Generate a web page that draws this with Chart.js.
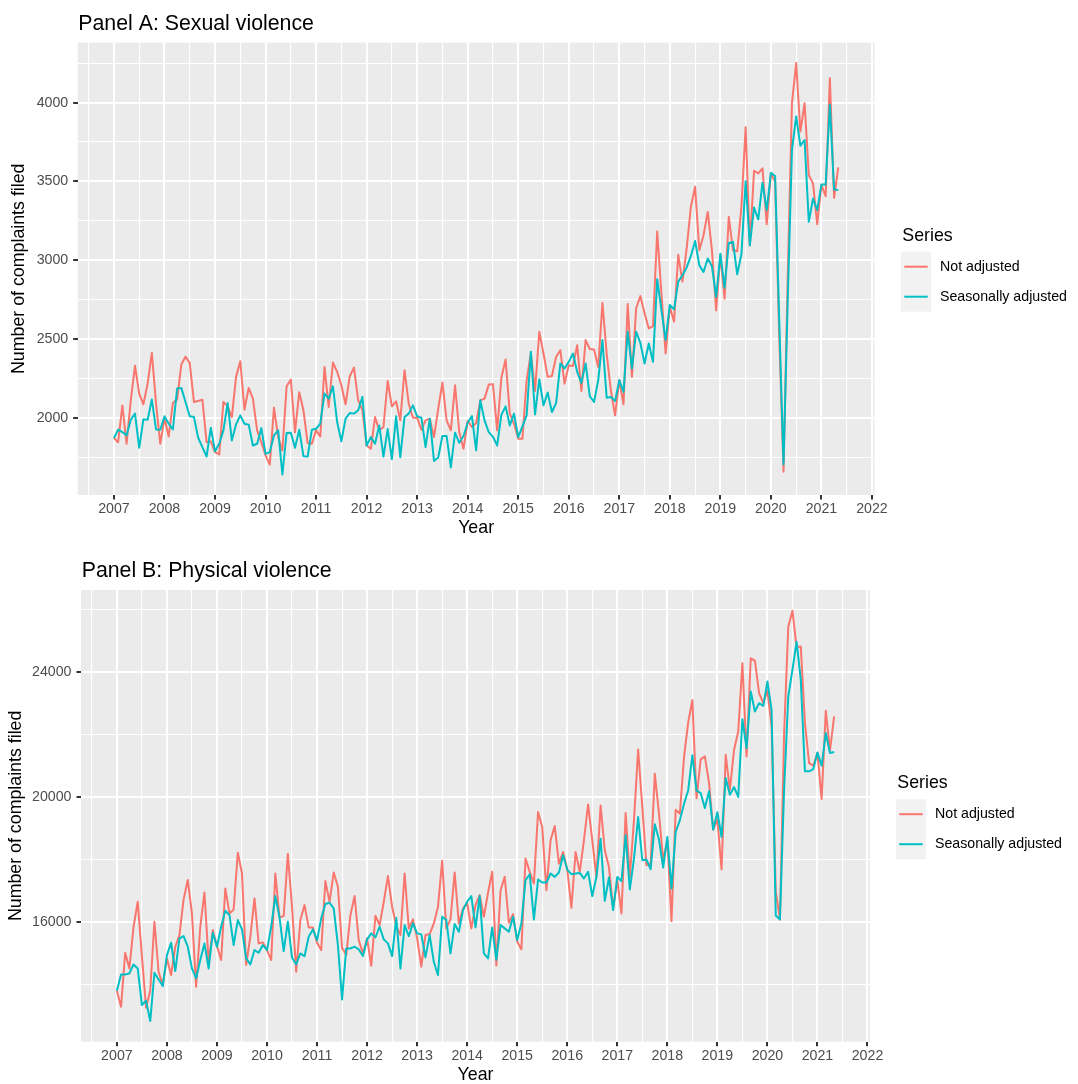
<!DOCTYPE html>
<html>
<head>
<meta charset="utf-8">
<script src="https://cdn.jsdelivr.net/npm/chart.js@4/dist/chart.umd.min.js"></script>
<style>
  html, body { margin: 0; padding: 0; background: #ffffff; overflow: hidden; }
  .panel { position: absolute; left: 0; width: 1078px; }
  #wrapA { top: 0; height: 542px; }
  #wrapB { top: 542px; height: 545px; }
</style>
</head>
<body>
<div id="wrapA" class="panel"><canvas id="chartA" width="1078" height="542"></canvas></div>
<div id="wrapB" class="panel"><canvas id="chartB" width="1078" height="545"></canvas></div>
<script>
// Monthly complaints, January 2007 to May 2021
const startYear = 2007;
const seriesNames = ['Not adjusted', 'Seasonally adjusted'];
const legendTitle = 'Series';
const yearTicks = [2007, 2008, 2009, 2010, 2011, 2012, 2013, 2014, 2015, 2016, 2017, 2018, 2019, 2020, 2021, 2022];
const sexualTicks = [2000, 2500, 3000, 3500, 4000];
const physicalTicks = [16000, 20000, 24000];

const sexualNotAdjusted = [
  1873, 1847, 2080, 1837, 2112, 2331, 2155, 2087, 2218, 2413, 2091, 1837,
  1998, 1883, 2095, 2117, 2339, 2388, 2350, 2102, 2108, 2117, 1847, 1852,
  1784, 1769, 2102, 2074, 2006, 2261, 2360, 2053, 2191, 2123, 1922, 1847,
  1763, 1705, 2066, 1879, 1794, 2201, 2244, 1910, 2163, 2049, 1841, 1837,
  1922, 1883, 2324, 2070, 2352, 2293, 2208, 2087, 2265, 2320, 2112, 2050,
  1826, 1805, 2006, 1922, 1943, 2235, 2074, 2106, 1985, 2303, 2091, 2002,
  2002, 1926, 1985, 1996, 1879, 2059, 2225, 1985, 1922, 2208, 1911, 1805,
  1981, 1943, 1968, 2112, 2123, 2212, 2215, 1922, 2255, 2371, 2028, 1964,
  1869, 1869, 2240, 2409, 2172, 2547, 2409, 2261, 2267, 2388, 2430, 2218,
  2335, 2329, 2462, 2172, 2494, 2437, 2435, 2324, 2731, 2409, 2176, 2017,
  2240, 2087, 2723, 2261, 2695, 2774, 2664, 2568, 2583, 3183, 2791, 2409,
  2706, 2611, 3035, 2865, 3075, 3340, 3466, 3064, 3159, 3307, 3064, 2682,
  3032, 2756, 3276, 3064, 3057, 3339, 3844, 3095, 3568, 3551, 3583, 3229,
  3551, 3498, 2500, 1660, 2900, 3996, 4251, 3816, 3996, 3541, 3488, 3229,
  3477, 3407, 4155, 3396, 3589
];
const sexualSeasonallyAdjusted = [
  1873, 1926, 1911, 1890, 1989, 2028, 1811, 1992, 1989, 2117, 1928, 1926,
  2011, 1964, 1928, 2187, 2191, 2102, 2011, 2006, 1875, 1816, 1756, 1939,
  1790, 1837, 1922, 2095, 1858, 1960, 2017, 1964, 1958, 1826, 1837, 1936,
  1773, 1784, 1890, 1922, 1642, 1905, 1907, 1811, 1926, 1758, 1756, 1926,
  1932, 1964, 2155, 2123, 2201, 1975, 1852, 1996, 2032, 2028, 2049, 2134,
  1826, 1879, 1837, 1953, 1756, 1930, 1739, 2011, 1752, 2006, 2028, 2080,
  2011, 2002, 1816, 1996, 1728, 1750, 1886, 1886, 1687, 1907, 1843, 1886,
  1970, 2013, 1795, 2112, 1985, 1911, 1881, 1826, 2020, 2074, 1953, 2028,
  1879, 1947, 2017, 2420, 2023, 2246, 2081, 2161, 2038, 2095, 2346, 2314,
  2356, 2409, 2293, 2223, 2346, 2138, 2102, 2240, 2494, 2129, 2134, 2108,
  2240, 2165, 2547, 2314, 2547, 2477, 2346, 2473, 2356, 2880, 2685, 2494,
  2717, 2689, 2865, 2905, 2955, 3028, 3123, 2968, 2926, 3011, 2962, 2767,
  3042, 2826, 3110, 3117, 2911, 3038, 3502, 3095, 3335, 3259, 3492, 3318,
  3555, 3534, 2600, 1707, 2750, 3700, 3912, 3727, 3763, 3244, 3392, 3318,
  3481, 3481, 3986, 3449, 3445
];
const physicalNotAdjusted = [
  13791, 13279, 15008, 14506, 15840, 16640, 14900, 13247, 13800, 16000, 14400, 13973,
  14826, 14293, 15200, 15573, 16715, 17334, 16267, 13919, 15840, 16939, 14720, 15733,
  15221, 14773, 17067, 16267, 16395, 18209, 17547, 14613, 15520, 16747, 15307, 15339,
  15093, 14773, 17547, 16139, 16181, 18166, 16480, 14400, 16053, 16533, 15819, 15819,
  15328, 15093, 17302, 16640, 17579, 17120, 15168, 14933, 16213, 16822, 15413, 14986,
  15467, 14592, 16192, 15893, 16640, 17462, 16480, 15861, 15573, 17547, 15787, 16075,
  15467, 14560, 15573, 15605, 15947, 16480, 17953, 15787, 16075, 17579, 15947, 16427,
  16587, 15787, 16533, 16853, 16160, 16928, 17600, 14600, 17000, 17438, 15968, 16245,
  15362, 15117, 18022, 17596, 17224, 19511, 19032, 17011, 18607, 19064, 17862, 18234,
  17670, 16447, 18234, 17596, 18607, 19756, 18607, 17436, 19724, 18288, 17756, 16426,
  17330, 16266, 19479, 17436, 19245, 21512, 19671, 17809, 17862, 20735, 19458, 17968,
  18607, 16021, 19586, 19458, 21267, 22384, 23090, 19950, 21200, 21293, 20441, 18950,
  19270, 17672, 21346, 20228, 21506, 22092, 24275, 21293, 24435, 24360, 23317, 22997,
  23400, 22252, 16980, 16075, 22000, 25447, 25958, 24786, 24808, 22358, 21080, 20995,
  21400, 19930, 22752, 21474, 22571
];
const physicalSeasonallyAdjusted = [
  13791, 14314, 14314, 14346, 14634, 14506, 13333, 13471, 12820, 14368, 14154, 13941,
  14933, 15328, 14421, 15467, 15541, 15200, 14506, 14186, 14773, 15307, 14506, 15648,
  15200, 15840, 16352, 16213, 15253, 16053, 15755, 14826, 14634, 15093, 15008, 15253,
  15093, 15840, 16822, 16139, 15061, 16000, 14848, 14634, 14986, 14901, 15520, 15755,
  15413, 16107, 16566, 16608, 16427, 15253, 13514, 15147, 15147, 15200, 15114, 14901,
  15435, 15627, 15499, 15840, 15435, 15307, 14901, 16128, 14506, 15893, 15541, 15947,
  15627, 15595, 14858, 15573, 14720, 14293, 16160, 16053, 14986, 15925, 15680, 16373,
  16640, 16822, 15819, 16822, 14986, 14826, 15819, 14785, 15893, 15787, 15681, 16160,
  15415, 15947, 17330, 17522, 16074, 17351, 17256, 17256, 17543, 17436, 17575, 18128,
  17670, 17522, 17543, 17564, 17383, 17596, 16819, 17436, 18660, 16670, 17415, 16372,
  17436, 17298, 18766, 17032, 18022, 19352, 17968, 17990, 17681, 19118, 18628, 17734,
  18713, 17064, 18873, 19245, 19777, 20203, 21330, 20200, 20120, 19642, 20175, 18950,
  19504, 18716, 20601, 20068, 20313, 19994, 22486, 21559, 23370, 22731, 22997, 22912,
  23689, 22784, 16202, 16075, 20228, 23210, 24062, 24967, 23742, 20814, 20814, 20888,
  21421, 20995, 22039, 21400, 21432
];

const FONT = "'Liberation Sans', Arial, Helvetica, sans-serif";
Chart.defaults.font.family = FONT;

const COLORS = ['#F8766D', '#00BFC4'];

// one point per month, placed at fractional years
function toPoints(values) {
  return values.map((v, i) => ({ x: startYear + i / 12, y: v }));
}

// grid backdrop, panel title and the legend box
const panelDecor = {
  id: 'panelDecor',
  beforeDraw(chart, args, o) {
    const { ctx, chartArea: a } = chart;
    ctx.save();
    ctx.fillStyle = '#FFFFFF';
    ctx.fillRect(0, 0, chart.width, chart.height);
    ctx.fillStyle = '#EBEBEB';
    ctx.fillRect(a.left, a.top, a.right - a.left, a.bottom - a.top);
    ctx.restore();
  },
  afterDraw(chart, args, o) {
    const ctx = chart.ctx;
    ctx.save();
    ctx.fillStyle = '#000000';
    ctx.textAlign = 'left';
    ctx.textBaseline = 'alphabetic';
    ctx.font = o.titleSize + 'px ' + FONT;
    ctx.fillText(o.title, o.titleX, o.titleY);

    ctx.font = o.legendTitleSize + 'px ' + FONT;
    ctx.fillText(legendTitle, o.legendX + 1.3, o.legendTitleY);

    chart.data.datasets.forEach((ds, k) => {
      const top = o.keyTop + k * o.keySize;
      const mid = top + o.keySize / 2;
      ctx.fillStyle = '#F2F2F2';
      ctx.fillRect(o.legendX, top, o.keySize, o.keySize);
      ctx.strokeStyle = ds.borderColor;
      ctx.lineWidth = ds.borderWidth;
      ctx.beginPath();
      ctx.moveTo(o.legendX + 3.3, mid);
      ctx.lineTo(o.legendX + o.keySize - 3.3, mid);
      ctx.stroke();
      ctx.fillStyle = '#000000';
      ctx.font = o.labelSize + 'px ' + FONT;
      ctx.textBaseline = 'middle';
      ctx.fillText(ds.label, o.labelX, mid);
      ctx.textBaseline = 'alphabetic';
    });
    ctx.restore();
  }
};

function buildPanel(canvasId, p) {
  const xMinor = yearTicks.map(y => y - 0.5);
  const xAll = xMinor.concat(yearTicks).sort((a, b) => a - b);
  const yStep = p.yMajor[1] - p.yMajor[0];
  const yMinor = p.yMajor.map(v => v - yStep / 2).concat([p.yMajor[p.yMajor.length - 1] + yStep / 2]);
  const yAll = yMinor.concat(p.yMajor).filter(v => v > p.yMin && v < p.yMax).sort((a, b) => a - b);
  const isMajorX = v => Math.abs(v - Math.round(v)) < 1e-6;
  const isMajorY = v => p.yMajor.indexOf(v) !== -1;

  return new Chart(document.getElementById(canvasId), {
    type: 'line',
    data: {
      datasets: [
        { label: seriesNames[0], data: toPoints(p.notAdjusted), borderColor: COLORS[0],
          borderWidth: 2, pointRadius: 0, tension: 0, fill: false, order: 1,
          borderJoinStyle: 'round', borderCapStyle: 'butt' },
        { label: seriesNames[1], data: toPoints(p.adjusted), borderColor: COLORS[1],
          borderWidth: 2, pointRadius: 0, tension: 0, fill: false, order: 0,
          borderJoinStyle: 'round', borderCapStyle: 'butt' }
      ]
    },
    options: {
      responsive: false,
      animation: false,
      events: [],
      layout: { padding: p.padding },
      plugins: {
        legend: { display: false },
        tooltip: { enabled: false },
        panelDecor: p.decor
      },
      scales: {
        x: {
          type: 'linear',
          min: 2006.283,
          max: 2022.05,
          afterBuildTicks: ax => { ax.ticks = xAll.map(v => ({ value: v })); },
          afterFit: ax => { ax.height = p.xAxisHeight; },
          border: { display: false },
          grid: {
            color: '#FFFFFF',
            lineWidth: c => (c.tick && isMajorX(c.tick.value)) ? 2 : 1.1,
            tickColor: c => (c.tick && isMajorX(c.tick.value)) ? '#333333' : 'rgba(0,0,0,0)',
            tickWidth: 2,
            tickLength: 4.5
          },
          ticks: {
            autoSkip: false,
            maxRotation: 0,
            color: '#4D4D4D',
            font: { size: 14.2 },
            padding: 1,
            callback: v => isMajorX(v) ? String(Math.round(v)) : ''
          },
          title: {
            display: true,
            text: 'Year',
            color: '#000000',
            font: { size: 17.8 },
            padding: { top: 0, bottom: p.xTitlePad }
          }
        },
        y: {
          type: 'linear',
          min: p.yMin,
          max: p.yMax,
          afterBuildTicks: ax => { ax.ticks = yAll.map(v => ({ value: v })); },
          afterFit: ax => { ax.width = p.yAxisWidth; },
          border: { display: false },
          grid: {
            color: '#FFFFFF',
            lineWidth: c => (c.tick && isMajorY(c.tick.value)) ? 2 : 1.1,
            tickColor: c => (c.tick && isMajorY(c.tick.value)) ? '#333333' : 'rgba(0,0,0,0)',
            tickWidth: 2,
            tickLength: 4.5
          },
          ticks: {
            autoSkip: false,
            color: '#4D4D4D',
            font: { size: 14.2 },
            padding: 5,
            callback: v => isMajorY(v) ? String(v) : ''
          },
          title: {
            display: true,
            text: 'Number of complaints filed',
            color: '#000000',
            font: { size: 17.8 },
            padding: { top: p.yTitlePad, bottom: 0 }
          }
        }
      }
    },
    plugins: [panelDecor]
  });
}

buildPanel('chartA', {
  notAdjusted: sexualNotAdjusted,
  adjusted: sexualSeasonallyAdjusted,
  yMajor: sexualTicks,
  yMin: 1512, yMax: 4381,
  padding: { left: 0, top: 42.5, right: 203.5, bottom: 0 },
  yAxisWidth: 77.7,
  xAxisHeight: 47,
  xTitlePad: 3.3,
  yTitlePad: 8.8,
  decor: {
    title: 'Panel A: Sexual violence', titleX: 78.3, titleY: 30, titleSize: 21.3,
    legendX: 901, legendTitleY: 240.7, legendTitleSize: 17.8,
    keyTop: 251.7, keySize: 30, labelX: 940, labelSize: 14.2
  }
});

buildPanel('chartB', {
  notAdjusted: physicalNotAdjusted,
  adjusted: physicalSeasonallyAdjusted,
  yMajor: physicalTicks,
  yMin: 12160, yMax: 26620,
  padding: { left: 0, top: 48, right: 208, bottom: 0 },
  yAxisWidth: 81,
  xAxisHeight: 45.3,
  xTitlePad: 0.8,
  yTitlePad: 5.8,
  decor: {
    title: 'Panel B: Physical violence', titleX: 81.7, titleY: 34.7, titleSize: 21.3,
    legendX: 896, legendTitleY: 246.2, legendTitleSize: 17.8,
    keyTop: 257.2, keySize: 30, labelX: 935, labelSize: 14.2
  }
});
</script>
</body>
</html>
